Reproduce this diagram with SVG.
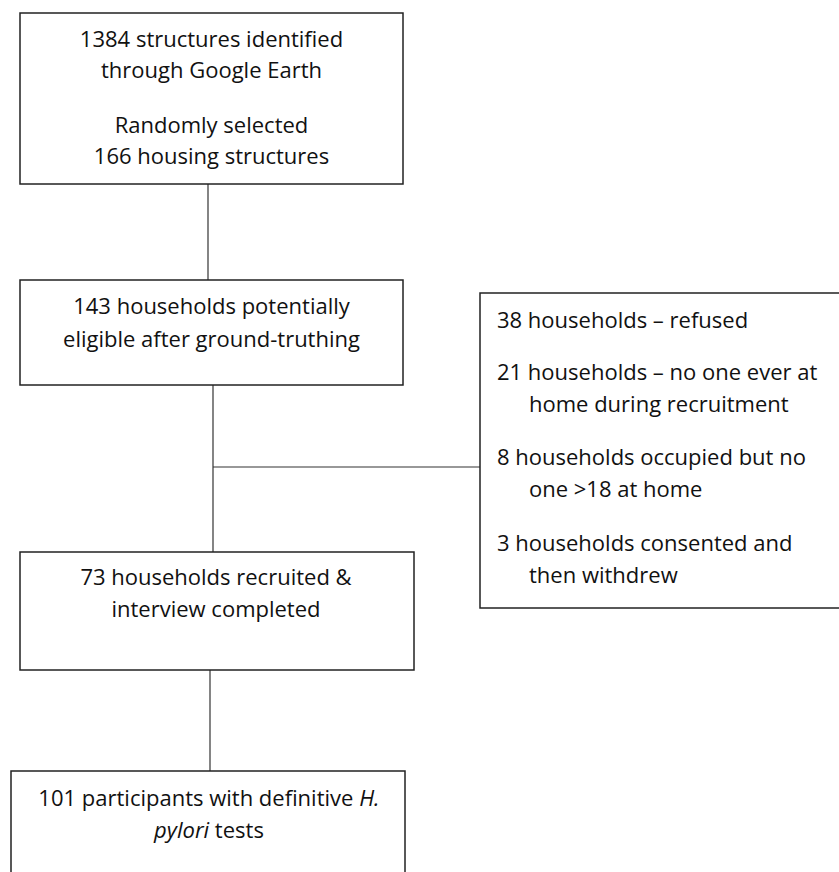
<svg xmlns="http://www.w3.org/2000/svg" width="839" height="872" viewBox="0 0 839 872">
<style>
.box{fill:#fff;stroke:#222;stroke-width:1.5}
.ln{stroke:#333;stroke-width:1.2;fill:none}
text{font-family:"Open Sans","Liberation Sans",sans-serif;font-size:22px;fill:#111}
.c{text-anchor:middle}
</style>
<rect width="839" height="872" fill="#fff"/>
<g id="connectors">
<line class="ln" x1="208" y1="184" x2="208" y2="280"/>
<line class="ln" x1="213" y1="385" x2="213" y2="552"/>
<line class="ln" x1="213" y1="467" x2="480" y2="467"/>
<line class="ln" x1="210" y1="670" x2="210" y2="771"/>
</g>
<g id="n1">
<rect class="box" x="20" y="13" width="383" height="171"/>
<text class="c" x="211.5" y="47">1384 structures identified</text>
<text class="c" x="211.5" y="78">through Google Earth</text>
<text class="c" x="211.5" y="133">Randomly selected</text>
<text class="c" x="211.5" y="164">166 housing structures</text>
</g>
<g id="n2">
<rect class="box" x="20" y="280" width="383" height="105"/>
<text class="c" x="211.5" y="314">143 households potentially</text>
<text class="c" x="211.5" y="347">eligible after ground-truthing</text>
</g>
<g id="n3">
<rect class="box" x="480" y="293" width="365" height="315"/>
<text x="497" y="328">38 households – refused</text>
<text x="497" y="380">21 households – no one ever at</text>
<text x="529" y="412">home during recruitment</text>
<text x="497" y="465">8 households occupied but no</text>
<text x="529" y="497">one &gt;18 at home</text>
<text x="497" y="551">3 households consented and</text>
<text x="529" y="583">then withdrew</text>
</g>
<g id="n4">
<rect class="box" x="20" y="552" width="394" height="118"/>
<text class="c" x="216" y="585">73 households recruited &amp;</text>
<text class="c" x="216" y="617">interview completed</text>
</g>
<g id="n5">
<rect class="box" x="11" y="771" width="394" height="120"/>
<text class="c" x="209" y="806">101 participants with definitive <tspan font-style="italic">H.</tspan></text>
<text class="c" x="209" y="838"><tspan font-style="italic">pylori</tspan> tests</text>
</g>
</svg>
